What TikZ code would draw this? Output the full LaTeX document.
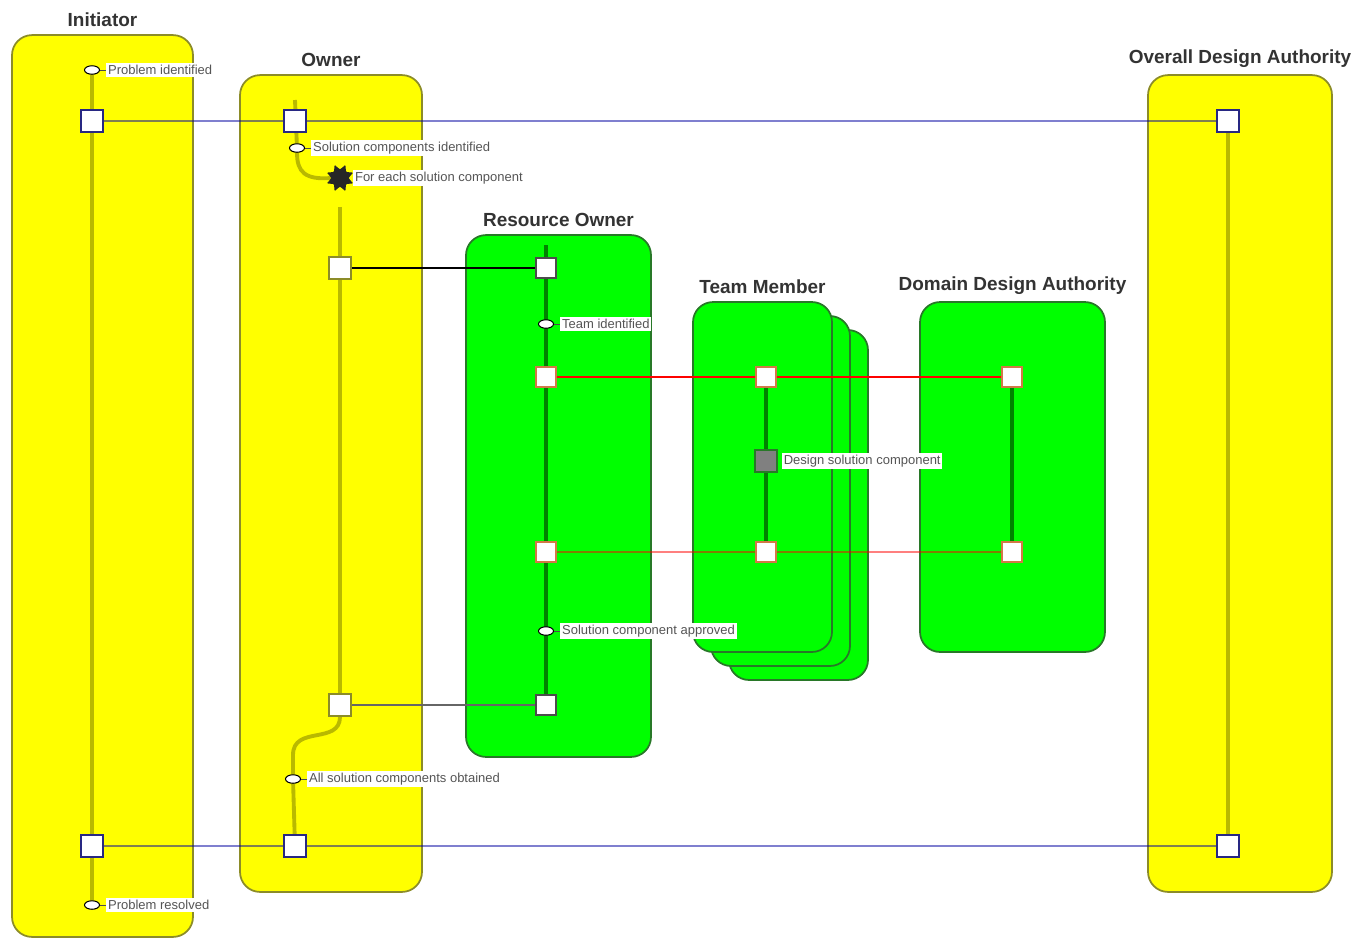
\documentclass[tikz,border=0pt]{standalone}
\usepackage{fontspec}
\setmainfont{Liberation Sans}
\usepackage{xcolor}
\usetikzlibrary{shapes.geometric, arrows.meta, positioning, calc}
\definecolor{laneyel}{RGB}{255,255,0}
\definecolor{yeledge}{RGB}{140,140,40}
\definecolor{yelline}{RGB}{185,185,0}
\definecolor{lanegrn}{RGB}{0,255,0}
\definecolor{grnedge}{RGB}{40,120,40}
\definecolor{grnline}{RGB}{0,130,0}
\definecolor{navyedge}{RGB}{40,40,130}
\definecolor{msgblue}{RGB}{0,0,160}
\definecolor{oredge}{RGB}{210,120,70}
\definecolor{labtext}{RGB}{85,85,85}
\pgfdeclarelayer{lanes}
\pgfdeclarelayer{wires}
\pgfsetlayers{lanes,wires,main}

\begin{document}
\begin{tikzpicture}[x=0.02cm,y=-0.02cm,font=\fontsize{7.4}{8}\selectfont,
  ylane/.style={draw=yeledge,line width=1pt,rounded corners=0.4cm,fill=laneyel},
  glane/.style={draw=grnedge,line width=1pt,rounded corners=0.4cm,fill=lanegrn},
  title/.style={font=\fontsize{10.8}{11}\selectfont\bfseries,text=black!80,inner sep=1pt},
  ysq/.style={draw=navyedge,fill=white,minimum size=0.44cm,inner sep=0,line width=0.8pt},
  gsq/.style={draw=black!70,fill=white,minimum size=0.4cm,inner sep=0,line width=0.8pt},
  osq/.style={draw=oredge,fill=white,minimum size=0.4cm,inner sep=0,line width=0.8pt},
  event/.style={ellipse,draw,fill=white,minimum width=0.3cm,minimum height=0.17cm,inner sep=0,line width=0.6pt},
  evlabel/.style={fill=white,text=labtext,inner sep=1pt},
  ylife/.style={draw=yelline,line width=2.2pt},
  glife/.style={draw=grnline,line width=1.8pt},
  tick/.style={draw=black!70,line width=0.5pt}]
  \useasboundingbox (0,0) rectangle (1366,938);

  % swimlanes
  \begin{pgfonlayer}{lanes}
    \node[ylane,minimum width=3.62cm,minimum height=18.04cm] (init) at (102.5,486) {};
    \node[ylane,minimum width=3.64cm,minimum height=16.34cm] (own) at (331,483.5) {};
    \node[ylane,minimum width=3.68cm,minimum height=16.34cm] (oda) at (1240,483.5) {};
    \node[glane,minimum width=3.7cm,minimum height=10.44cm] (ro) at (558.5,496) {};
    \node[glane,minimum width=2.78cm,minimum height=7cm] (tm3) at (798.5,505) {};
    \node[glane,minimum width=2.78cm,minimum height=7cm] (tm2) at (780.5,491) {};
    \node[glane,minimum width=2.78cm,minimum height=7cm] (tm) at (762.5,477) {};
    \node[glane,minimum width=3.7cm,minimum height=7cm] (dda) at (1012.5,477) {};
    \node[title,above=0.1cm of init.north] {Initiator};
    \node[title,above=0.1cm of own.north] {Owner};
    \node[title,above=0.1cm of oda.north] {Overall Design Authority};
    \node[title,above=0.1cm of ro.north] {Resource Owner};
    \node[title,above=0.1cm of tm.north] {Team Member};
    \node[title,above=0.1cm of dda.north] {Domain Design Authority};
  \end{pgfonlayer}

  % events and activations
  \node[event] (e1) at (92,70) {};
  \node[evlabel,right=0.12cm of e1] (e1t) {Problem identified};
  \node[ysq] (i1) at (92,121) {};
  \node[ysq] (i2) at (92,846) {};
  \node[event] (e8) at (92,905) {};
  \node[evlabel,right=0.12cm of e8] (e8t) {Problem resolved};

  \coordinate (otop) at (295,100);
  \node[ysq] (o1) at (295,121) {};
  \node[event] (e2) at (297,148) {};
  \node[evlabel,right=0.12cm of e2] (e2t) {Solution components identified};
  \node[star,star points=8,star point ratio=0.6,fill=black!85,rounded corners=0.5pt,minimum size=0.34cm,inner sep=0] (loop) at (340,178) {};
  \node[evlabel,right=0.08cm of loop] (loopt) {For each solution component};
  \node[ysq,draw=yeledge] (o2) at (340,268) {};
  \node[ysq,draw=yeledge] (o3) at (340,705) {};
  \coordinate (obend) at (293,755);
  \node[event] (e6) at (293,779) {};
  \node[evlabel,right=0.12cm of e6] (e6t) {All solution components obtained};
  \node[ysq] (o4) at (295,846) {};

  \node[ysq] (d1) at (1228,121) {};
  \node[ysq] (d2) at (1228,846) {};

  \coordinate (rtop) at (546,245);
  \node[gsq] (r1) at (546,268) {};
  \node[event] (e3) at (546,324) {};
  \node[evlabel,right=0.12cm of e3] (e3t) {Team identified};
  \node[osq] (r3) at (546,377) {};
  \node[osq] (r4) at (546,552) {};
  \node[event] (e5) at (546,631) {};
  \node[evlabel,right=0.12cm of e5] (e5t) {Solution component approved};
  \node[gsq] (r6) at (546,705) {};

  \node[osq] (t1) at (766,377) {};
  \node[draw=grnedge,fill=gray,minimum size=0.44cm,inner sep=0,line width=0.8pt] (t2) at (766,461) {};
  \node[evlabel,right=0.08cm of t2] (t2t) {Design solution component};
  \node[osq] (t3) at (766,552) {};

  \node[osq] (a1) at (1012,377) {};
  \node[osq] (a2) at (1012,552) {};

  % messages and lifelines
  \begin{pgfonlayer}{wires}
    \draw[msgblue,opacity=0.5,line width=1.5pt] (i1) -- (o1) -- (d1);
    \draw[msgblue,opacity=0.5,line width=1.5pt] (i2) -- (o4) -- (d2);
    \draw[black,line width=0.7pt] (o2) -- (r1);
    \draw[black!60,line width=0.8pt] (o3) -- (r6);
    \draw[red,line width=0.9pt] (r3) -- (t1) -- (a1);
    \draw[red,opacity=0.5,line width=1.1pt] (r4) -- (t3) -- (a2);

    \draw[ylife] (e1) -- (e8);
    \draw[ylife] (otop) -- (e2);
    \draw[ylife] (e2.south) .. controls (297,172) and (305,180) .. (loop.west);
    \draw[ylife,shorten <=0.4cm] (loop) -- (o3);
    \draw[ylife] (o3.south) .. controls (340,745) and (293,725) .. (obend) -- (e6);
    \draw[ylife] (e6) -- (o4);
    \draw[ylife] (d1) -- (d2);
    \draw[glife] (rtop) -- (r6);
    \draw[glife] (t1) -- (t3);
    \draw[glife] (a1) -- (a2);

    \draw[tick] (e1) -- (e1t);
    \draw[tick] (e2) -- (e2t);
    \draw[tick] (e3) -- (e3t);
    \draw[tick] (e5) -- (e5t);
    \draw[tick] (e6) -- (e6t);
    \draw[tick] (e8) -- (e8t);
  \end{pgfonlayer}
\end{tikzpicture}
\end{document}
